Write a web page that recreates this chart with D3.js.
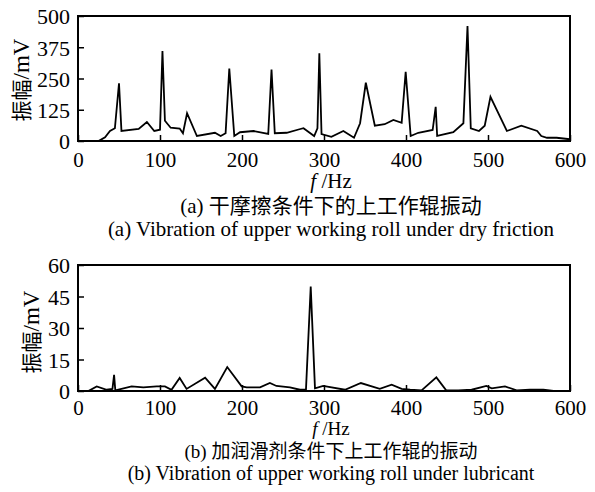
<!DOCTYPE html>
<html><head><meta charset="utf-8">
<script src="https://cdn.jsdelivr.net/npm/d3@7"></script>
<style>body{margin:0;background:#fff}svg{display:block}</style>
</head><body>
<script>
// Panel (a): dry friction
const freqA = [0,25,33,39,45,50,53,74,84,93,100,103,106,113,124,128,133,145,167,174,180,184.5,190.6,197.6,214,232,236,240,254.5,270,275,288,292,294.3,297,309,323.6,336.6,344,351,362,374,384.6,394.7,399.6,405.7,415,432.5,436.2,438,457.7,470,475,479,489,496,503,523,540.6,560,565,572,583.7,600];
const ampA  = [0,0,15,40,51,231,40,48,76,40,45,360,81,53,50,31,111,20,33,20,31,290,20,35,40,28,286,31,33,47,51,20,51,351,28,17,40,13,71,233,61,67,84,73,277,20,33,44,137,20,35,71,460,51,40,61,177,40,61,40,20,13,13,7];
// Panel (b): lubricant
const freqB = [0,12.6,22.8,35,42,44,45.5,65.4,79.7,96,106,114,124,132.4,155,167,182,199.6,205.7,222,234,242,258.5,270.7,278,283.8,289,299,325.6,345,368,382.5,394.7,405,419,437,449,463.8,480,498,504.5,520.7,534.9,551,567.5,580,600];
const ampB  = [0,0,2.2,0.6,1,7.7,0.3,2.2,1.7,2.2,2.2,0.6,6.2,1,6.3,1,11.4,2.2,1.7,1.7,3.8,2.4,1.7,0.6,0.6,49.7,1.3,2.4,0.6,3.8,1,3,1,0.6,0.3,6.5,0.3,0.3,0.6,2.4,1.3,2.2,0.3,0.6,0.6,0,0];
const xTicks = [0,100,200,300,400,500,600];
const yTicksA = [0,125,250,375,500];
const yTicksB = [0,15,30,45,60];
const yTitleCJK = "振幅";
const yTitleUnit = "/mV";
const xTitleItalic = "f";
const xTitleRest = " /Hz";
const capA = ["(a) ","干摩擦条件下的上工作辊振动","(a) Vibration of upper working roll under dry friction"];
const capB = ["(b) ","加润滑剂条件下上工作辊的振动","(b) Vibration of upper working roll under lubricant"];

const W=595,H=492;
const svg=d3.select("body").append("svg").attr("width",W).attr("height",H);
const serif="'Liberation Serif', 'Times New Roman', serif";
const cjk="'Noto Sans CJK SC', sans-serif";
const CX=331;

function panel(cfg){
  const {top,bottom,freq,amp,yMax,yTicks,titleY,xTitleY,caps,capY,fs,pad} = cfg;
  const left=78,right=570;
  const x=d3.scaleLinear().domain([0,600]).range([left,right]);
  const y=d3.scaleLinear().domain([0,yMax]).range([bottom,top]);
  const g=svg.append("g");
  g.append("path").datum(freq.map((f,i)=>[f,amp[i]]))
    .attr("d",d3.line().x(d=>x(d[0])).y(d=>y(d[1])))
    .attr("fill","none").attr("stroke","#000").attr("stroke-width",1.8);
  const xa=g.append("g").attr("transform",`translate(0,${bottom})`)
    .call(d3.axisBottom(x).tickValues(xTicks).tickSizeInner(-6).tickSizeOuter(0).tickPadding(pad));
  xa.select(".domain").remove();
  xa.selectAll("line").attr("stroke","#000").attr("stroke-width",1.5);
  xa.selectAll("text").style("font-family",serif).style("font-size","21px").attr("fill","#000").attr("dy","0.55em");
  const ya=g.append("g").attr("transform",`translate(${left},0)`)
    .call(d3.axisLeft(y).tickValues(yTicks).tickSizeInner(-6).tickSizeOuter(0).tickPadding(8));
  ya.select(".domain").remove();
  ya.selectAll("line").attr("stroke","#000").attr("stroke-width",1.5);
  ya.selectAll("text").style("font-family",serif).style("font-size","22px").attr("fill","#000").attr("dy","0.36em");
  g.append("rect").attr("x",left).attr("y",top).attr("width",right-left).attr("height",bottom-top)
    .attr("fill","none").attr("stroke","#000").attr("stroke-width",2);
  svg.append("text").attr("transform",`translate(${titleY[0]},${titleY[1]}) rotate(-90)`)
    .attr("text-anchor","middle").attr("fill","#000").attr("dy","0.35em")
    .call(t=>{t.append("tspan").style("font-family",cjk).style("font-size","21px").text(yTitleCJK);
              t.append("tspan").style("font-family",serif).style("font-size","23px").text(yTitleUnit);});
  svg.append("text").attr("x",CX).attr("y",xTitleY).attr("text-anchor","middle")
    .style("font-family",serif).style("font-size",fs[0]+"px").attr("fill","#000")
    .call(t=>{t.append("tspan").style("font-style","italic").text(xTitleItalic);
              t.append("tspan").text(xTitleRest);});
  svg.append("text").attr("x",CX).attr("y",capY[0]).attr("text-anchor","middle").attr("fill","#000")
    .call(t=>{t.append("tspan").style("font-family",serif).style("font-size",fs[1]+"px").text(caps[0]);
              t.append("tspan").style("font-family",cjk).style("font-size",fs[1]+"px").text(caps[1]);});
  svg.append("text").attr("x",CX).attr("y",capY[1]).attr("text-anchor","middle")
    .style("font-family",serif).style("font-size",fs[2]+"px").attr("fill","#000").text(caps[2]);
}

panel({top:16,bottom:141,freq:freqA,amp:ampA,yMax:500,yTicks:yTicksA,titleY:[23,80],xTitleY:188,
  caps:capA,capY:[213,236],fs:[21,21,21],pad:14});
panel({top:265,bottom:391,freq:freqB,amp:ampB,yMax:60,yTicks:yTicksB,titleY:[33,332],xTitleY:435,
  caps:capB,capY:[458,480],fs:[19,19,20],pad:12});
</script>
</body></html>
